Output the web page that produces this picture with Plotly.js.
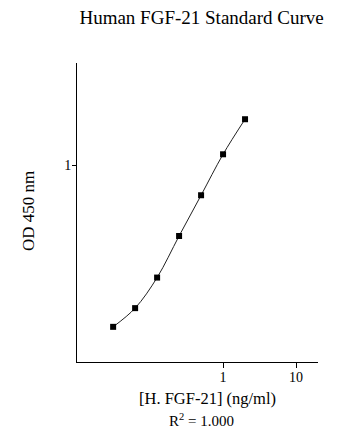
<!DOCTYPE html>
<html>
<head>
<meta charset="utf-8">
<script src="https://cdn.plot.ly/plotly-3.0.1.min.js"></script>
<style>html,body{margin:0;padding:0;background:#fff;}#chart{width:360px;height:444px;}</style>
</head>
<body>
<div id="chart"></div>
<script>
const concentrations = [0.03125, 0.0625, 0.125, 0.25, 0.5, 1, 2];
const odValues = [0.151, 0.188, 0.269, 0.438, 0.706, 1.141, 1.721];
const xTickVals = [1, 10];
const xTickText = ["1", "10"];
const yTickVals = [1];
const yTickText = ["1"];
const chartTitle = "Human FGF-21 Standard Curve";
const xLabel = "[H. FGF-21] (ng/ml)";
const yLabel = "OD 450 nm";
const r2Label = "R<sup>2</sup> = 1.000";

const font = "Liberation Serif, Times New Roman, serif";

const trace = {
  x: concentrations,
  y: odValues,
  mode: "lines+markers",
  type: "scatter",
  line: {shape: "spline", color: "#222", width: 1},
  marker: {symbol: "square", size: 6, color: "#000"},
  showlegend: false
};

const layout = {
  width: 360, height: 444,
  margin: {l: 77, r: 42, t: 63, b: 82},
  paper_bgcolor: "#fff", plot_bgcolor: "#fff",
  font: {family: font, size: 13, color: "#000"},
  title: {text: chartTitle, font: {family: font, size: 19, color: "#000"}, x: 0.56, xanchor: "center", y: 0.962, yanchor: "middle"},
  xaxis: {
    type: "log", range: [-2, 1.3],
    tickvals: xTickVals, ticktext: xTickText,
    ticks: "outside", ticklen: 5, tickcolor: "#000", tickwidth: 1,
    ticklabelstandoff: -3,
    showline: true, linecolor: "#000", linewidth: 1,
    showgrid: false, zeroline: false,
    tickfont: {family: font, size: 14, color: "#000"}
  },
  yaxis: {
    type: "log", range: [-1, 0.522],
    tickvals: yTickVals, ticktext: yTickText,
    ticks: "outside", ticklen: 4, tickcolor: "#000", tickwidth: 1,
    ticklabelstandoff: -2,
    showline: true, linecolor: "#000", linewidth: 1,
    showgrid: false, zeroline: false,
    tickfont: {family: font, size: 14, color: "#000"}
  },
  annotations: [
    {text: yLabel, xref: "paper", yref: "paper", x: (28 - 77) / 241, y: (362 - 211) / 299, xanchor: "center", yanchor: "middle", textangle: -90, showarrow: false, font: {family: font, size: 17, color: "#000"}},
    {text: xLabel, xref: "paper", yref: "paper", x: (207 - 77) / 241, y: -(398 - 362) / 299, xanchor: "center", yanchor: "middle", showarrow: false, font: {family: font, size: 16.5, color: "#000"}},
    {text: r2Label, xref: "paper", yref: "paper", x: (201.5 - 77) / 241, y: -(420 - 362) / 299, xanchor: "center", yanchor: "middle", showarrow: false, font: {family: font, size: 15, color: "#000"}}
  ]
};

Plotly.newPlot("chart", [trace], layout, {displayModeBar: false, staticPlot: true});
</script>
</body>
</html>
